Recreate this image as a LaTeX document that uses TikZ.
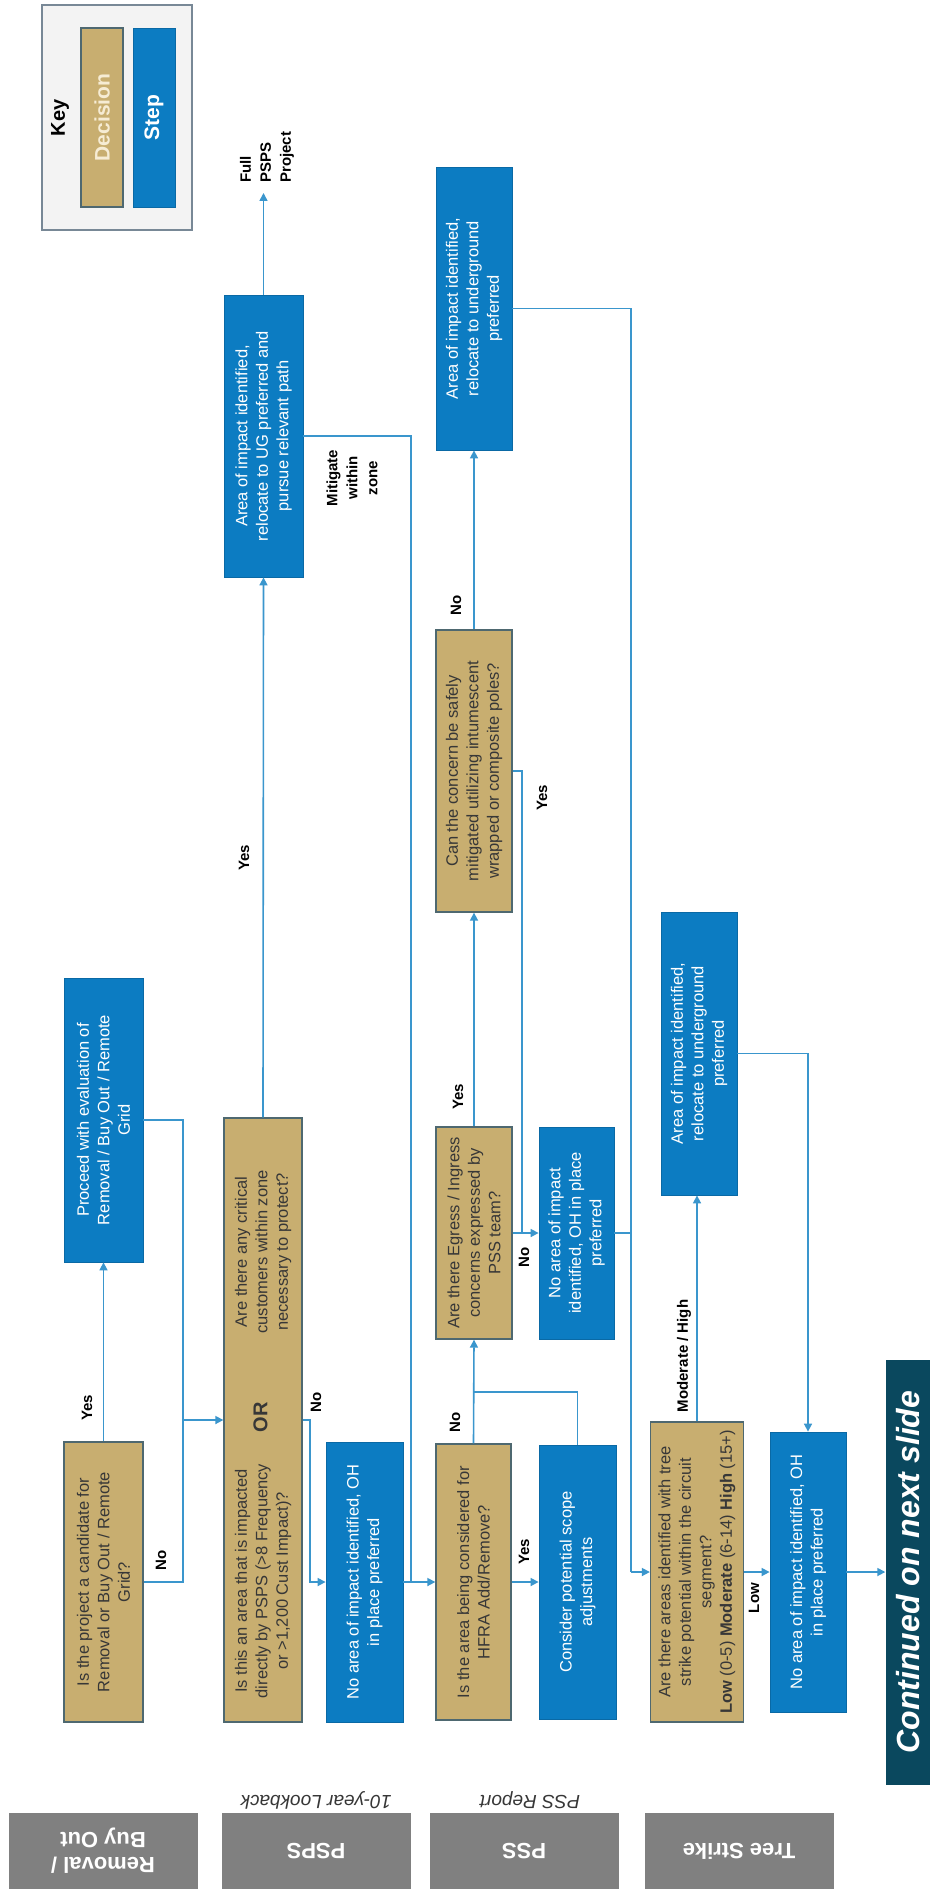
\documentclass[tikz,border=0pt]{standalone}
\usepackage{fontspec}
\setmainfont{Liberation Sans}
\usepackage{graphicx}
\usepackage{xcolor}
\definecolor{sand}{RGB}{200,174,112}
\definecolor{stepblue}{RGB}{12,124,194}
\definecolor{slate}{RGB}{78,104,112}
\definecolor{flowblue}{RGB}{58,150,205}
\definecolor{lanegray}{RGB}{128,128,128}
\definecolor{banner}{RGB}{10,72,94}
\definecolor{ink}{RGB}{55,55,55}
\definecolor{keyfill}{RGB}{243,243,243}
\definecolor{keyedge}{RGB}{120,136,150}
\definecolor{pale}{RGB}{246,236,212}
\usepackage{tikz}
\usetikzlibrary{arrows.meta,positioning,calc,shadows}
\newcommand{\vtxt}[2]{\rotatebox{90}{\parbox{#1}{\centering #2}}}
\tikzset{
  decision/.style={draw=slate, line width=1.3pt, fill=sand, text=ink, inner sep=0pt,
                   font=\fontsize{16.5}{20.5}\selectfont},
  stepbox/.style={draw=stepblue!85!black, line width=0.8pt, fill=stepblue, text=white,
                  inner sep=0pt, font=\fontsize{16.5}{20.5}\selectfont},
  flow/.style={draw=flowblue, line width=1.6pt, -{Triangle[width=8pt,length=8pt]}},
  link/.style={draw=flowblue, line width=1.6pt},
  lbl/.style={rotate=90, align=center, inner sep=0pt, font=\bfseries\fontsize{15}{20}\selectfont},
  lane/.style={fill=lanegray, text=white, rotate=180, align=center, inner sep=0pt,
               minimum width=189pt, minimum height=76pt,
               font=\bfseries\fontsize{22}{25}\selectfont,
               drop shadow={shadow xshift=0pt, shadow yshift=-3pt, opacity=.3, fill=black}},
  sublbl/.style={rotate=180, text=ink, inner sep=0pt, font=\itshape\fontsize{19}{22}\selectfont},
}

\begin{document}
\begin{tikzpicture}[x=1pt,y=-1pt]
\useasboundingbox (0,0) rectangle (929,1889);
\fill[white] (0,0) rectangle (929,1889);

% key
\node[draw=keyedge, line width=1.5pt, fill=keyfill, minimum width=150pt, minimum height=225pt] (key) at (117,117.5) {};
\node[lbl, font=\bfseries\fontsize{20}{24}\selectfont] (keytitle) at (60,118) {Key};
\node[decision, text=pale, minimum width=42pt, minimum height=179pt] (keydec) at (102,117.5)
  {\rotatebox{90}{\bfseries\fontsize{21}{24}\selectfont Decision}};
\node[stepbox, minimum width=42pt, minimum height=179pt] (keystep) at (154,117.5)
  {\rotatebox{90}{\bfseries\fontsize{21}{24}\selectfont Step}};

% Removal / Buy Out
\node[decision, minimum width=79pt, minimum height=280pt] (q1) at (103.5,1582)
  {\vtxt{270pt}{Is the project a candidate for\\Removal or Buy Out / Remote\\Grid?}};
\node[stepbox, minimum width=79pt, minimum height=284pt] (proceed) at (103.5,1120)
  {\vtxt{270pt}{Proceed with evaluation of\\Removal / Buy Out / Remote\\Grid}};

% PSPS
\node[decision, minimum width=78pt, minimum height=604pt] (qpsps) at (263,1420)
  {\rotatebox{90}{\parbox{250pt}{\centering Is this an area that is impacted\\directly by PSPS (>8 Frequency\\or >1,200 Cust Impact)?}%
   \hspace{24pt}{\bfseries\fontsize{20}{24}\selectfont OR}\hspace{50pt}%
   \parbox{200pt}{\centering Are there any critical\\customers within zone\\necessary to protect?}\hspace{18pt}}};
\node[stepbox, minimum width=79pt, minimum height=282pt] (boxA) at (263.5,436)
  {\vtxt{270pt}{Area of impact identified,\\relocate to UG preferred and\\pursue relevant path}};
\node[stepbox, minimum width=77pt, minimum height=280pt] (pspsno) at (364.5,1582)
  {\vtxt{270pt}{No area of impact identified, OH\\in place preferred}};
\node[lbl, align=left, anchor=west] (fullpsps) at (267,183) {Full\\PSPS\\Project};

% PSS
\node[decision, minimum width=75pt, minimum height=276pt] (hfra) at (473.5,1582)
  {\vtxt{270pt}{Is the area being considered for\\HFRA Add/Remove?}};
\node[stepbox, minimum width=77pt, minimum height=274pt] (scope) at (577.5,1582)
  {\vtxt{260pt}{Consider potential scope\\adjustments}};
\node[decision, minimum width=76pt, minimum height=212pt] (egress) at (474,1233)
  {\vtxt{205pt}{Are there Egress / Ingress\\concerns expressed by\\PSS team?}};
\node[stepbox, minimum width=75pt, minimum height=212pt] (pssno) at (576.5,1233)
  {\vtxt{205pt}{No area of impact\\identified, OH in place\\preferred}};
\node[decision, minimum width=76pt, minimum height=282pt] (mitig) at (474,771)
  {\vtxt{275pt}{Can the concern be safely\\mitigated utilizing intumescent\\wrapped or composite poles?}};
\node[stepbox, minimum width=76pt, minimum height=283pt] (boxB) at (474,308.5)
  {\vtxt{270pt}{Area of impact identified,\\relocate to underground\\preferred}};

% Tree Strike
\node[decision, minimum width=93pt, minimum height=300pt] (tsq) at (697,1572)
  {\vtxt{296pt}{Are there areas identified with tree\\strike potential within the circuit\\segment?\\\textbf{Low} (0-5) \textbf{Moderate} (6-14) \textbf{High} (15+)}};
\node[stepbox, minimum width=76pt, minimum height=283pt] (tsug) at (699,1053.5)
  {\vtxt{270pt}{Area of impact identified,\\relocate to underground\\preferred}};
\node[stepbox, minimum width=76pt, minimum height=280pt] (tsno) at (808,1572)
  {\vtxt{270pt}{No area of impact identified, OH\\in place preferred}};
\node[fill=banner, text=white, inner sep=0pt, minimum width=45pt, minimum height=425pt,
      font=\bfseries\itshape\fontsize{32}{36}\selectfont] (cont) at (908,1572)
  {\rotatebox{90}{Continued on next slide}};

% lanes
\node[lane] (lanerbo) at (103,1851) {Removal /\\Buy Out};
\node[lane] (lanepsps) at (316,1851) {PSPS};
\node[lane] (lanepss) at (524,1851) {PSS};
\node[lane] (lanets) at (739,1851) {Tree Strike};
\node[sublbl] (lookback) at (316,1800) {10-year Lookback};
\node[sublbl] (pssreport) at (530,1800) {PSS Report};

% connectors
\coordinate (jrbo) at (183,1420);
\coordinate (jpsps) at (310,1582);
\coordinate (jmit) at (411,1582);
\coordinate (jscope) at (474,1392);
\coordinate (jyes) at (522,1233);
\coordinate (jts) at (631,1572);
\coordinate (psend) at (263.5,193);

\draw[flow] (q1.north) -- (proceed.south);
\draw[link] (proceed.east) -| (jrbo);
\draw[link] (q1.east) -| (jrbo);
\draw[flow] (jrbo) -- (qpsps.west);
\draw[flow] (qpsps.north) -- (boxA.south);
\draw[flow] (boxA.north) -- (psend);
\draw[flow] (qpsps.east) -| (jpsps) -- (pspsno.west);
\draw[link] (boxA.east) -| (jmit);
\draw[flow] (pspsno.east) -- (hfra.west);
\draw[flow] (hfra.east) -- (scope.west);
\draw[flow] (hfra.north) -- (egress.south);
\draw[link] (scope.north) |- (jscope);
\draw[flow] (egress.north) -- (mitig.south);
\draw[flow] (mitig.north) -- (boxB.south);
\draw[link] (mitig.east) -| (jyes);
\draw[flow] (egress.east) -- (pssno.west);
\draw[link] (boxB.east) -| (jts);
\draw[link] (pssno.east) -- (pssno.east -| jts);
\draw[flow] (jts) -- (tsq.west);
\draw[flow] (tsq.north) -- (tsq.north |- tsug.south);
\draw[flow] (tsug.east) -| (tsno.north);
\draw[flow] (tsq.east) -- (tsno.west);
\draw[flow] (tsno.east) -- (cont.west);

% connector labels
\node[lbl] (yes1) at (87,1408) {Yes};
\node[lbl] (no1) at (161,1560) {No};
\node[lbl] (yes2) at (244,858) {Yes};
\node[lbl] (no2) at (316,1402) {No};
\node[lbl] (mitlbl) at (352,478) {Mitigate\\within\\zone};
\node[lbl] (no3) at (456,605) {No};
\node[lbl] (yes3) at (542,798) {Yes};
\node[lbl] (yes4) at (458,1097) {Yes};
\node[lbl] (no4) at (524,1257) {No};
\node[lbl] (no5) at (455,1422) {No};
\node[lbl] (yes5) at (524,1552) {Yes};
\node[lbl] (modhigh) at (684,1356) {Moderate / High};
\node[lbl] (low) at (754,1598) {Low};
\end{tikzpicture}
\end{document}
